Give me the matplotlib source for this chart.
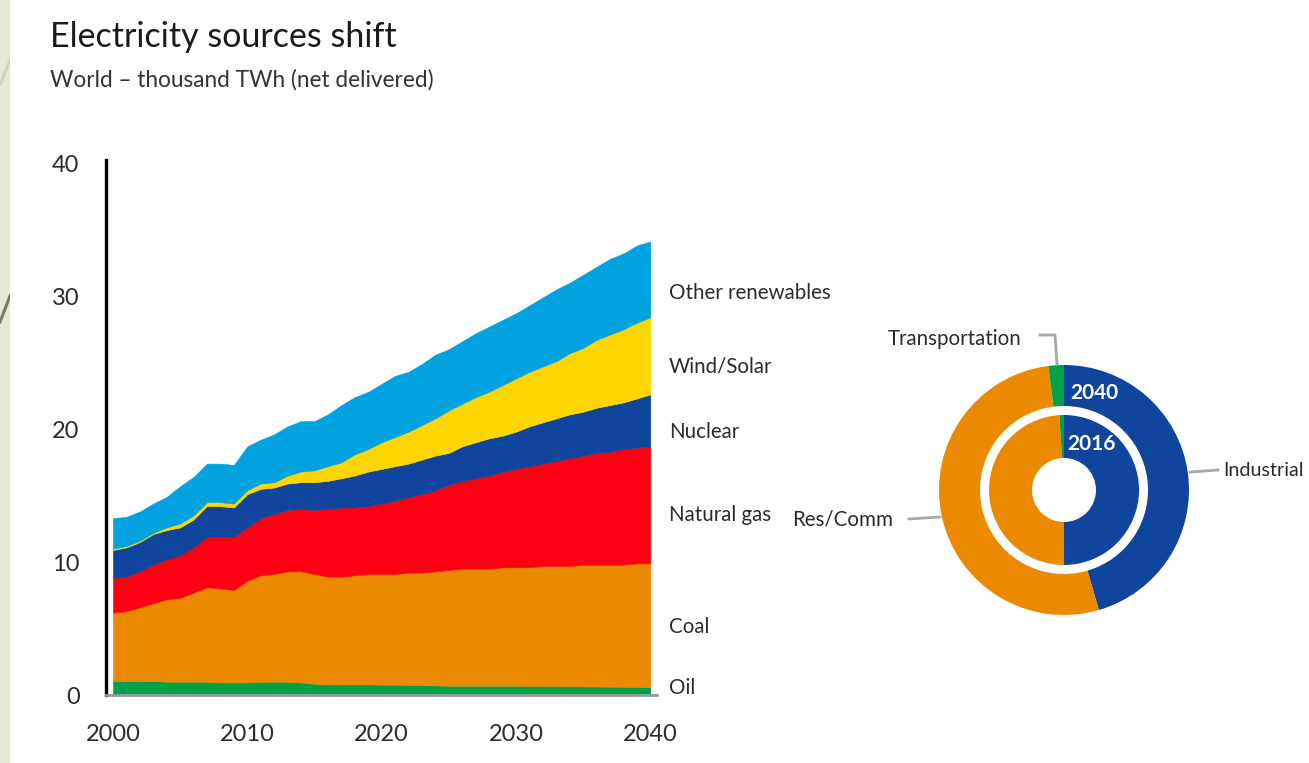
import numpy as np
import matplotlib
matplotlib.use("Agg")
import matplotlib.pyplot as plt
from matplotlib.lines import Line2D

plt.rcParams['font.family'] = ['Lato', 'DejaVu Sans']

# ---- data ----
years = list(range(2000, 2041))

oil = [1.05, 1.05, 1.05, 1.05, 1.0, 1.0, 1.0, 1.0, 0.95, 0.95,
       0.95, 1.0, 1.0, 1.0, 0.95, 0.85, 0.8, 0.8, 0.8, 0.8,
       0.78, 0.78, 0.76, 0.75, 0.72, 0.7, 0.7, 0.7, 0.7, 0.7,
       0.7, 0.68, 0.68, 0.67, 0.66, 0.65, 0.64, 0.63, 0.62, 0.61, 0.6]
coal = [5.15, 5.25, 5.55, 5.85, 6.2, 6.3, 6.7, 7.1, 7.05, 6.95,
        7.65, 8.0, 8.1, 8.3, 8.35, 8.25, 8.1, 8.1, 8.2, 8.3,
        8.32, 8.32, 8.44, 8.45, 8.58, 8.7, 8.8, 8.8, 8.8, 8.9,
        8.9, 8.92, 9.02, 9.03, 9.04, 9.15, 9.16, 9.17, 9.18, 9.29, 9.3]
natural_gas = [2.6, 2.6, 2.7, 2.9, 3.0, 3.2, 3.4, 3.8, 3.9, 4.0,
               4.0, 4.3, 4.5, 4.6, 4.7, 4.8, 5.1, 5.2, 5.1, 5.1,
               5.3, 5.5, 5.7, 5.9, 6.1, 6.4, 6.6, 6.8, 7.0, 7.2,
               7.4, 7.6, 7.7, 7.9, 8.1, 8.2, 8.4, 8.5, 8.7, 8.7, 8.8]
nuclear = [2.1, 2.2, 2.2, 2.3, 2.2, 2.1, 2.1, 2.3, 2.3, 2.2,
           2.5, 2.2, 2.0, 2.0, 2.0, 2.1, 2.1, 2.2, 2.4, 2.6,
           2.6, 2.6, 2.5, 2.6, 2.6, 2.4, 2.6, 2.7, 2.8, 2.7,
           2.8, 3.0, 3.1, 3.2, 3.3, 3.3, 3.4, 3.5, 3.5, 3.7, 3.9]
wind_solar = [0.1, 0.1, 0.1, 0.1, 0.2, 0.3, 0.3, 0.3, 0.3, 0.3,
              0.3, 0.4, 0.4, 0.6, 0.8, 0.9, 1.1, 1.2, 1.6, 1.7,
              2.0, 2.2, 2.4, 2.6, 2.8, 3.2, 3.2, 3.4, 3.5, 3.8,
              4.0, 4.1, 4.2, 4.3, 4.6, 4.8, 5.1, 5.3, 5.5, 5.7, 5.8]
other_renewables = [2.3, 2.2, 2.2, 2.2, 2.3, 2.8, 2.9, 2.9, 2.9, 2.9,
                    3.3, 3.3, 3.6, 3.7, 3.8, 3.7, 3.9, 4.3, 4.3, 4.3,
                    4.4, 4.6, 4.5, 4.6, 4.8, 4.6, 4.7, 4.8, 4.9, 4.9,
                    4.9, 5.0, 5.2, 5.4, 5.3, 5.5, 5.5, 5.7, 5.7, 5.8, 5.7]

source_names = ['Oil', 'Coal', 'Natural gas', 'Nuclear', 'Wind/Solar', 'Other renewables']
source_colors = ['#00A14B', '#EB8A00', '#FF0012', '#0F459C', '#FDD500', '#00A3DF']
label_y = [0.55, 5.1, 13.5, 19.8, 24.7, 30.2]

y_ticks = [0, 10, 20, 30, 40]
x_ticks = [2000, 2010, 2020, 2030, 2040]

# donut: sectors
sectors = ['Industrial', 'Res/Comm', 'Transportation']
share_2040 = [45.5, 52.5, 2.0]
share_2016 = [50.0, 49.0, 1.0]
sector_colors = ['#0F459C', '#EB8A00', '#00A14B']

text_col = '#2b2b2b'
label_size = 14.8
W, H = 1309, 763

fig = plt.figure(figsize=(W / 100, H / 100), dpi=100)
fig.patch.set_facecolor('white')

# decorative strip on the left edge
strip = fig.add_axes([0, 0, 10 / W, 1])
strip.set_facecolor('#E4EACD')
strip.set_xlim(0, 10)
strip.set_ylim(H, 0)
strip.plot([0, 10], [322, 296], color='#7d7862', lw=2.2)
strip.plot([0, 10], [85, 60], color='#cfd2bd', lw=2)
strip.set_xticks([])
strip.set_yticks([])
for s in strip.spines.values():
    s.set_visible(False)

# ---- stacked area chart ----
ax = fig.add_axes([106 / W, 1 - 695 / H, 551 / W, 535 / H])
ax.stackplot(years, oil, coal, natural_gas, nuclear, wind_solar, other_renewables,
             colors=source_colors, linewidth=0.4,
             edgecolor='face')
ax.set_xlim(1999.48, 2040.5)
ax.set_ylim(0, 40.23)
ax.set_yticks(y_ticks)
ax.set_xticks(x_ticks)
ax.tick_params(length=0, labelsize=17, colors=text_col)
ax.tick_params(axis='y', pad=19)
ax.tick_params(axis='x', pad=21)
for side in ['top', 'right']:
    ax.spines[side].set_visible(False)
ax.spines['left'].set_linewidth(2.4)
ax.spines['left'].set_color('black')
ax.spines['bottom'].set_linewidth(2)
ax.spines['bottom'].set_color('#9a9a9a')
ax.set_facecolor('none')

for name, yv in zip(source_names, label_y):
    ax.text(2041.4, yv, name, fontsize=label_size, color=text_col, va='center',
            ha='left', clip_on=False)

# ---- titles ----
fig.text(50 / W, 1 - 47 / H, 'Electricity sources shift', fontsize=24.5,
         color='#1a1a1a', ha='left', va='baseline')
fig.text(50 / W, 1 - 87 / H, 'World \u2013 thousand TWh (net delivered)', fontsize=16.3,
         color='#333333', ha='left', va='baseline')

# ---- donut ----
cx, cy, half = 1064, 490, 300
dax = fig.add_axes([(cx - half) / W, 1 - (cy + half) / H, 2 * half / W, 2 * half / H])
dax.set_aspect('equal')
dax.axis('off')

dax.pie(share_2040, colors=sector_colors, startangle=90, counterclock=False,
        radius=1.25, wedgeprops=dict(width=0.41, linewidth=0))
dax.pie(share_2016, colors=sector_colors, startangle=90, counterclock=False,
        radius=0.75, wedgeprops=dict(width=0.43, linewidth=0))
dax.set_xlim(-3, 3)
dax.set_ylim(-3, 3)

dax.text(0.30, 0.97, '2040', color='white', fontsize=15, fontweight='bold',
         ha='center', va='center')
dax.text(0.27, 0.46, '2016', color='white', fontsize=15, fontweight='bold',
         ha='center', va='center')

lead = '#a8a8a8'
dax.add_line(Line2D([-0.24, -0.09, -0.07], [1.55, 1.55, 1.26], color=lead, lw=2))
dax.add_line(Line2D([1.26, 1.54], [0.18, 0.20], color=lead, lw=2))
dax.add_line(Line2D([-1.55, -1.24], [-0.29, -0.27], color=lead, lw=2))

dax.text(-0.42, 1.51, 'Transportation', fontsize=label_size, color=text_col,
         ha='right', va='center')
dax.text(1.59, 0.19, 'Industrial', fontsize=14.2, color=text_col,
         ha='left', va='center')
dax.text(-2.72, -0.30, 'Res/Comm', fontsize=label_size, color=text_col,
         ha='left', va='center')

fig.savefig('out.png', dpi=100, facecolor='white')
